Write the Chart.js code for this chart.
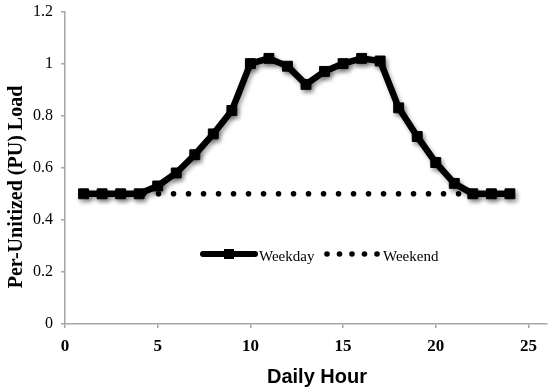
<!DOCTYPE html>
<html>
<head>
<meta charset="utf-8">
<script src="https://cdn.jsdelivr.net/npm/chart.js@4/dist/chart.umd.min.js"></script>
<style>
  html, body { margin: 0; padding: 0; background: #fff; }
  #wrap { width: 550px; height: 390px; }
</style>
</head>
<body>
<div id="wrap"><canvas id="chart" width="550" height="390"></canvas></div>
<script>
/* ========= Data ========= */
const hours = [1,2,3,4,5,6,7,8,9,10,11,12,13,14,15,16,17,18,19,20,21,22,23,24];
const weekday = [0.5,0.5,0.5,0.5,0.53,0.58,0.65,0.73,0.82,1.0,1.02,0.99,0.92,0.97,1.0,1.02,1.01,0.83,0.72,0.62,0.54,0.5,0.5,0.5];
const weekend = [0.5,0.5,0.5,0.5,0.5,0.5,0.5,0.5,0.5,0.5,0.5,0.5,0.5,0.5,0.5,0.5,0.5,0.5,0.5,0.5,0.5,0.5,0.5,0.5];
const xTicks = [0,5,10,15,20,25];
const yTicks = [0,0.2,0.4,0.6,0.8,1,1.2];
const seriesNames = ["Weekday", "Weekend"];
const xTitle = "Daily Hour";
const yTitle = "Per-Unitized (PU) Load";

const AXIS = "#a6a6a6";
const SERIF = "'Liberation Serif', 'Times New Roman', serif";
const SANS = "'Liberation Sans', Arial, sans-serif";

/* ========= Shadow for the weekday line ========= */
const shadowPlugin = {
  id: "shadow",
  beforeDatasetDraw(chart, args) {
    if (args.index !== 0) return;
    const ctx = chart.ctx;
    ctx.save();
    ctx.shadowColor = "rgba(0,0,0,0.35)";
    ctx.shadowBlur = 4;
    ctx.shadowOffsetX = 2;
    ctx.shadowOffsetY = 3;
  },
  afterDatasetDraw(chart, args) {
    if (args.index !== 0) return;
    chart.ctx.restore();
  }
};

/* ========= Axis titles + in-plot legend ========= */
const decorPlugin = {
  id: "decor",
  afterDraw(chart) {
    const ctx = chart.ctx;
    ctx.save();
    ctx.fillStyle = "#000";

    // y title
    ctx.save();
    ctx.translate(17, 187);
    ctx.rotate(-Math.PI / 2);
    ctx.font = "bold 20px " + SERIF;
    ctx.textAlign = "center";
    ctx.textBaseline = "middle";
    ctx.fillText(yTitle, 0, 0);
    ctx.restore();

    // x title
    ctx.font = "bold 20px " + SANS;
    ctx.textAlign = "center";
    ctx.textBaseline = "middle";
    ctx.fillText(xTitle, 317, 377);

    // legend
    const ly = 254;
    ctx.strokeStyle = "#000";
    ctx.lineWidth = 6;
    ctx.lineCap = "round";
    ctx.beginPath();
    ctx.moveTo(203, ly);
    ctx.lineTo(255, ly);
    ctx.stroke();
    ctx.fillRect(224, ly - 5, 10, 10);

    ctx.font = "15px " + SERIF;
    ctx.textAlign = "left";
    ctx.textBaseline = "alphabetic";
    ctx.fillText(seriesNames[0], 259, 260.5);

    for (let i = 0; i < 5; i++) {
      ctx.beginPath();
      ctx.arc(327 + i * 12.5, ly, 2.8, 0, Math.PI * 2);
      ctx.fill();
    }
    ctx.fillText(seriesNames[1], 383, 260.5);
    ctx.restore();
  }
};

/* ========= Chart ========= */
const ctx = document.getElementById("chart").getContext("2d");
new Chart(ctx, {
  type: "line",
  data: {
    datasets: [
      {
        label: seriesNames[0],
        data: hours.map((h, i) => ({ x: h, y: weekday[i] })),
        borderColor: "#000",
        backgroundColor: "#000",
        borderWidth: 6.5,
        borderJoinStyle: "round",
        tension: 0,
        pointStyle: "rect",
        pointRadius: 7,
        pointBorderWidth: 1,
        pointBackgroundColor: "#000",
        pointBorderColor: "#000",
        fill: false
      },
      {
        label: seriesNames[1],
        data: hours.map((h, i) => ({ x: h, y: weekend[i] })),
        borderColor: "#000",
        borderWidth: 5.6,
        borderDash: [0, 15],
        borderCapStyle: "round",
        pointRadius: 0,
        tension: 0,
        fill: false
      }
    ]
  },
  options: {
    responsive: false,
    animation: false,
    layout: { autoPadding: false, padding: { top: 11.5, right: 3, left: 0, bottom: 0 } },
    plugins: {
      legend: { display: false },
      tooltip: { enabled: false },
      title: { display: false }
    },
    scales: {
      x: {
        type: "linear",
        min: 0,
        max: 26,
        afterBuildTicks: s => { s.ticks = xTicks.map(v => ({ value: v })); },
        afterFit: s => { s.height = 66; s.paddingLeft = 0; s.paddingRight = 0; },
        grid: { drawOnChartArea: false, color: AXIS, tickLength: 4, lineWidth: 1.5 },
        border: { color: AXIS, width: 1.5 },
        ticks: {
          color: "#000",
          padding: 8,
          maxRotation: 0,
          font: { family: SERIF, size: 17, weight: "bold" }
        }
      },
      y: {
        min: 0,
        max: 1.2,
        afterBuildTicks: s => { s.ticks = yTicks.map(v => ({ value: v })); },
        afterFit: s => { s.width = 65; s.paddingTop = 0; s.paddingBottom = 0; },
        grid: { drawOnChartArea: false, color: AXIS, tickLength: 4, lineWidth: 1.5 },
        border: { color: AXIS, width: 1.5 },
        ticks: {
          color: "#000",
          padding: 8,
          callback: v => String(Math.round(v * 10) / 10),
          font: { family: SERIF, size: 16 }
        }
      }
    }
  },
  plugins: [shadowPlugin, decorPlugin]
});
</script>
</body>
</html>
